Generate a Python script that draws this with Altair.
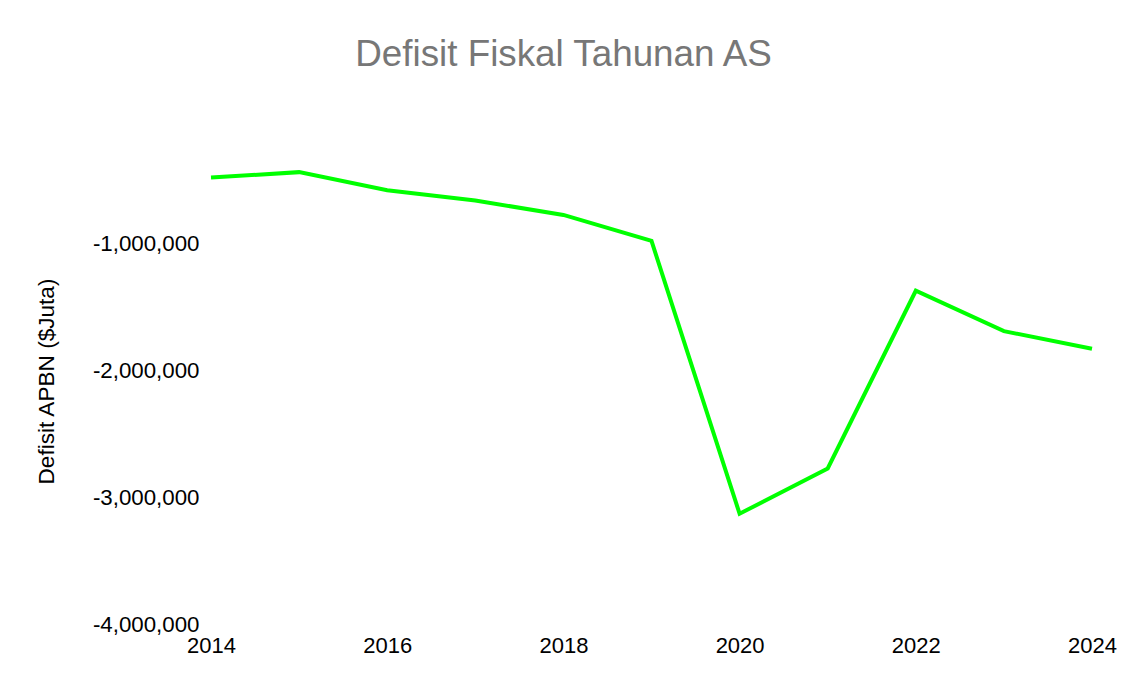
import altair as alt
import pandas as pd

years = [2014, 2015, 2016, 2017, 2018, 2019, 2020, 2021, 2022, 2023, 2024]
deficit = [-484600, -442000, -584700, -665400, -779100, -983600,
           -3131900, -2775300, -1375900, -1694000, -1832800]
x_ticks = [2014, 2016, 2018, 2020, 2022, 2024]
y_ticks = [-4000000, -3000000, -2000000, -1000000]

df = pd.DataFrame({"Tahun": years, "Defisit": deficit})

FONT = "Liberation Sans"

chart = alt.Chart(df).mark_line(color="#00ff00", strokeWidth=4).encode(
    x=alt.X("Tahun:Q",
            scale=alt.Scale(domain=[2014, 2024], nice=False, zero=False),
            axis=alt.Axis(values=x_ticks, format="d", title=None, grid=False,
                          domain=False, ticks=False, labelPadding=11,
                          labelFontSize=22, labelFont=FONT, labelColor="#000000",
                          labelFlush=False)),
    y=alt.Y("Defisit:Q",
            scale=alt.Scale(domain=[-4000000, 0], nice=False, zero=False),
            axis=alt.Axis(values=y_ticks, grid=False, domain=False, ticks=False,
                          labelPadding=12, labelFontSize=22.3, labelFont=FONT,
                          labelColor="#000000",
                          labelExpr="datum.value < 0 ? '-' + format(-datum.value, ',') : format(datum.value, ',')",
                          title="Defisit APBN ($Juta)", titleFont=FONT,
                          titleFontSize=22.6, titleFontWeight="normal",
                          titleColor="#000000", titleX=-158, titleY=265,
                          titleBaseline="alphabetic", titleAlign="center")),
).properties(
    width=881,
    height=508,
    title=alt.TitleParams("Defisit Fiskal Tahunan AS", font=FONT, fontSize=36.8,
                          fontWeight="normal", color="#777777", anchor="middle",
                          dx=-88, baseline="alphabetic", offset=13),
    autosize=alt.AutoSizeParams(type="none"),
    padding={"left": 203, "top": 108, "right": 40, "bottom": 46},
).configure_view(stroke=None)

chart.save("out.html", embed_options={"renderer": "svg", "actions": False})
